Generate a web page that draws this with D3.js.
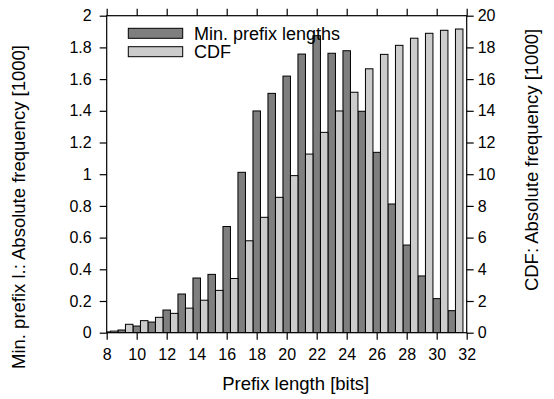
<!DOCTYPE html>
<html><head><meta charset="utf-8">
<script src="https://cdn.jsdelivr.net/npm/d3@7"></script>
<style>body{margin:0;background:#fff}svg{display:block}text{font-family:"Liberation Sans",Arial,Helvetica,sans-serif;fill:#000}</style>
</head><body>
<svg id="c" width="554" height="399"></svg>
<script>
const categories = [8,9,10,11,12,13,14,15,16,17,18,19,20,21,22,23,24,25,26,27,28,29,30,31];
const minPrefix = [0.005,0.017,0.042,0.067,0.143,0.244,0.345,0.368,0.670,1.012,1.399,1.510,1.619,1.758,1.874,1.763,1.779,1.397,1.138,0.812,0.553,0.358,0.215,0.139];
const cdf = [0.1,0.53,0.76,0.97,1.22,1.55,2.05,2.67,3.42,5.80,7.28,8.54,9.91,11.27,12.64,13.99,15.17,16.65,17.56,18.13,18.58,18.89,19.08,19.16];
const xTicks = [8,10,12,14,16,18,20,22,24,26,28,30,32];
const yTicks = [0,0.2,0.4,0.6,0.8,1,1.2,1.4,1.6,1.8,2];
const y2Ticks = [0,2,4,6,8,10,12,14,16,18,20];
const seriesNames = ["Min. prefix lengths","CDF"];
const colors = ["#7f7f7f","#cccccc"];

const L=106.7,R=466.7,T=15.7,B=332.7;
const svg=d3.select("#c");
const x=d3.scaleLinear().domain([8,32]).range([L,R]);
const y=d3.scaleLinear().domain([0,2]).range([B,T]);
const y2=d3.scaleLinear().domain([0,20]).range([B,T]);

svg.append("clipPath").attr("id","clip").append("rect").attr("x",L).attr("y",T).attr("width",R-L).attr("height",B-T);
const g=svg.append("g").attr("clip-path","url(#clip)");
g.selectAll("rect.d").data(categories).join("rect").attr("class","d")
 .attr("x",d=>x(d-0.25)).attr("width",d=>x(d+0.25)-x(d-0.25))
 .attr("y",(d,i)=>y(minPrefix[i])).attr("height",(d,i)=>B-y(minPrefix[i]))
 .attr("fill",colors[0]).attr("stroke","#000").attr("stroke-width",1);
g.selectAll("rect.l").data(categories).join("rect").attr("class","l")
 .attr("x",d=>x(d+0.25)).attr("width",d=>x(d+0.75)-x(d+0.25))
 .attr("y",(d,i)=>y2(cdf[i])).attr("height",(d,i)=>B-y2(cdf[i]))
 .attr("fill",colors[1]).attr("stroke","#000").attr("stroke-width",1);

// border
svg.append("rect").attr("x",L).attr("y",T).attr("width",R-L).attr("height",B-T).attr("fill","none").attr("stroke","#000").attr("stroke-width",1.2);

const fs=16;
const xb=svg.append("g").attr("transform",`translate(0,${B})`).call(d3.axisBottom(x).tickValues(xTicks).tickSize(7).tickFormat(d3.format("d")));
const xt=svg.append("g").attr("transform",`translate(0,${T})`).call(d3.axisTop(x).tickValues(xTicks).tickSize(7).tickFormat(""));
const yl=svg.append("g").attr("transform",`translate(${L},0)`).call(d3.axisLeft(y).tickValues(yTicks).tickSize(7).tickFormat(d=>String(d)));
const yr=svg.append("g").attr("transform",`translate(${R},0)`).call(d3.axisRight(y2).tickValues(y2Ticks).tickSize(7).tickFormat(d3.format("d")));
[xb,xt,yl,yr].forEach(a=>{a.select(".domain").remove();a.selectAll("line").attr("stroke","#000").attr("stroke-width",1.2);a.selectAll("text").style("font-size",fs+"px").style("font-family",'"Liberation Sans",Arial,sans-serif');});
xb.selectAll("text").attr("y",16);
yl.selectAll("text").attr("x",-15);
yr.selectAll("text").attr("x",11);

const lfs="18.5px";
svg.append("text").attr("x",(L+R)/2+9).attr("y",390).attr("text-anchor","middle").style("font-size",lfs).text("Prefix length [bits]");
svg.append("text").attr("transform","translate(25,207) rotate(-90)").attr("text-anchor","middle").style("font-size",lfs).text("Min. prefix l.: Absolute frequency [1000]");
svg.append("text").attr("transform","translate(538,160) rotate(-90)").attr("text-anchor","middle").style("font-size",lfs).text("CDF: Absolute frequency [1000]");

const lg=svg.append("g");
seriesNames.forEach((n,i)=>{
  lg.append("rect").attr("x",128.3).attr("y",28.3+i*18.4).attr("width",54.4).attr("height",10).attr("fill",colors[i]).attr("stroke","#000").attr("stroke-width",1);
  lg.append("text").attr("x",194).attr("y",39.5+i*18.4).style("font-size","18px").text(n);
});
</script>
</body></html>
